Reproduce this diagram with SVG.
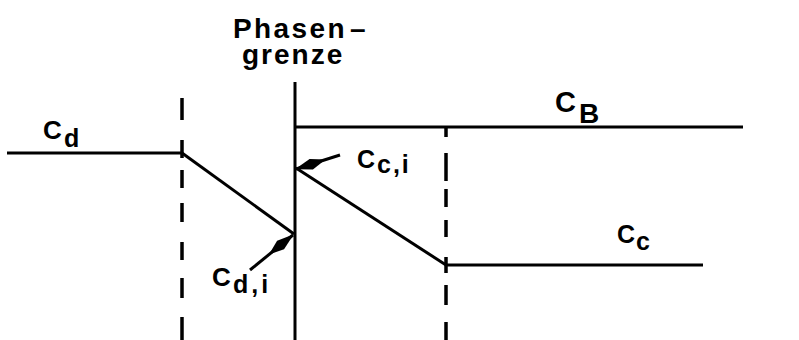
<svg xmlns="http://www.w3.org/2000/svg" width="799" height="340" viewBox="0 0 799 340">
<style>
.ln{stroke:#000;stroke-width:3;fill:none;stroke-linecap:butt}
.dash{stroke:#000;stroke-width:3.5;fill:none}
.t{font-family:"Liberation Sans",Arial,sans-serif;font-weight:bold;fill:#000}
</style>
<defs>
<marker id="ah" markerUnits="userSpaceOnUse" viewBox="0 0 32 12" markerWidth="32" markerHeight="12" refX="31" refY="6" orient="auto" overflow="visible">
<path d="M0,6 L15,0.5 L32,6 L15,11.5 z" fill="#000"/>
</marker>
</defs>
<rect width="799" height="340" fill="#fff"/>
<g id="connectors">
<line id="cd-line" class="ln" x1="7" y1="153" x2="182" y2="153"/>
<line id="cd-slope" class="ln" x1="182" y1="153" x2="294" y2="234"/>
<line id="phase-boundary" class="ln" x1="295" y1="82" x2="295" y2="340"/>
<line id="cb-line" class="ln" x1="294" y1="127" x2="743" y2="127"/>
<line id="cc-slope" class="ln" x1="296" y1="168" x2="446" y2="265"/>
<line id="cc-line" class="ln" x1="446" y1="265" x2="703" y2="265"/>
<path id="left-film" class="dash" d="M182,98V120M182,140V158M182,170V188M182,203V222M182,242V260M182,278V298M182,317V340"/>
<path id="right-film" class="dash" d="M446,127V137M446,153V181M446,189V207M446,220V237M446,257V273M446,285V305M446,322V340"/>
<line id="arrow-cdi" class="ln" stroke-width="2.5" x1="250" y1="270" x2="293" y2="235" marker-end="url(#ah)"/>
<line id="arrow-cci" class="ln" stroke-width="2.5" x1="340" y1="155" x2="296" y2="169" marker-end="url(#ah)"/>
</g>
<g id="title">
<text class="t" font-size="28"><tspan x="233" y="38" letter-spacing="2.4">Phasen</tspan><tspan x="350" y="38">–</tspan><tspan x="242" y="64" letter-spacing="2">grenze</tspan></text>
</g>
<g id="label-cd"><text class="t" x="43" y="139" font-size="26">C<tspan x="64" y="147" font-size="25">d</tspan></text></g>
<g id="label-cb"><text class="t" x="555" y="112" font-size="29">C<tspan x="579" y="123" font-size="28">B</tspan></text></g>
<g id="label-cci"><text class="t" x="357" y="168" font-size="25">C<tspan x="377" y="173" font-size="25" letter-spacing="2">c,i</tspan></text></g>
<g id="label-cdi"><text class="t" x="212" y="286" font-size="26">C<tspan x="233" y="293" font-size="25" letter-spacing="3">d,i</tspan></text></g>
<g id="label-cc"><text class="t" x="617" y="243" font-size="25">C<tspan x="636" y="250" font-size="25">c</tspan></text></g>
</svg>
